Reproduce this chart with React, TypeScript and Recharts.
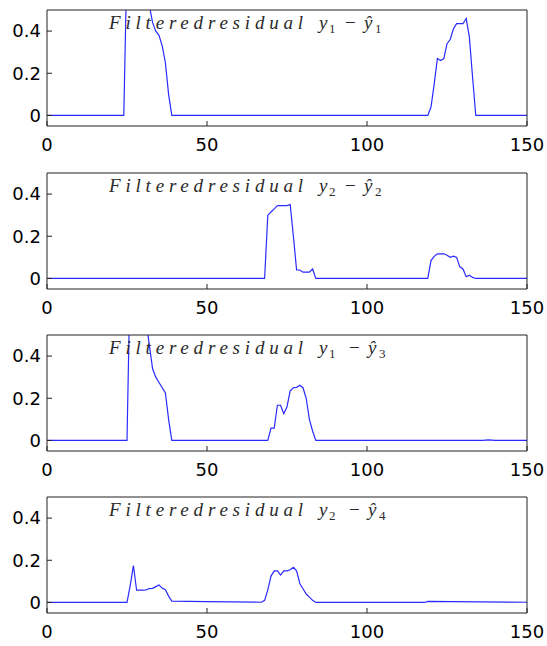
import React from 'react';
import { LineChart, Line, XAxis, YAxis } from 'recharts';

// breakpoints: [sample, residual]; straight segments between them
const residualY1Y1: [number, number][] = [
  [0, 0], [24, 0], [25, 0.75], [26, 0.95], [27, 1.0], [28, 0.95], [29, 0.85], [30, 0.75],
  [31, 0.62], [32, 0.52], [33, 0.44], [34, 0.4], [35, 0.38], [36, 0.33], [37, 0.25],
  [38, 0.1], [39, 0], [119, 0], [120, 0.04], [121, 0.15], [122, 0.27], [123, 0.26],
  [124, 0.27], [125, 0.34], [126, 0.36], [127, 0.41], [128, 0.435], [130, 0.435],
  [131, 0.46], [132, 0.37], [133, 0.18], [134, 0], [150, 0],
];

const residualY2Y2: [number, number][] = [
  [0, 0], [68, 0], [69, 0.3], [70, 0.315], [71, 0.33], [72, 0.345], [75, 0.345], [76, 0.35],
  [77, 0.2], [78, 0.04], [79, 0.04], [80, 0.03], [82, 0.03], [83, 0.045], [84, 0],
  [119, 0], [120, 0.085], [121, 0.105], [122, 0.117], [124, 0.117], [125, 0.11],
  [126, 0.1], [127, 0.106], [128, 0.1], [129, 0.055], [130, 0.045], [131, 0.008],
  [132, 0.015], [133, 0.005], [134, 0], [150, 0],
];

const residualY1Y3: [number, number][] = [
  [0, 0], [25, 0], [26, 0.8], [27, 1.0], [28, 0.95], [29, 0.85], [30, 0.7], [31, 0.56],
  [32, 0.45], [33, 0.34], [34, 0.3], [35, 0.275], [36, 0.25], [37, 0.225], [38, 0.1],
  [39, 0], [69, 0], [70, 0.058], [71, 0.058], [72, 0.167], [73, 0.167], [74, 0.127],
  [75, 0.16], [76, 0.235], [77, 0.25], [78, 0.252], [79, 0.262], [80, 0.25], [81, 0.2],
  [82, 0.1], [83, 0.045], [84, 0], [136, 0], [138, 0.003], [140, 0], [150, 0],
];

const residualY2Y4: [number, number][] = [
  [0, 0], [25, 0], [26, 0.08], [27, 0.175], [28, 0.058], [30, 0.058], [31, 0.06],
  [32, 0.066], [33, 0.067], [34, 0.075], [35, 0.083], [36, 0.068], [37, 0.06], [38, 0.03],
  [39, 0.006], [50, 0.004], [67, 0.001], [68, 0.01], [69, 0.06], [70, 0.125], [71, 0.15],
  [72, 0.15], [73, 0.13], [74, 0.15], [75, 0.15], [76, 0.155], [77, 0.167], [78, 0.15],
  [79, 0.09], [80, 0.065], [81, 0.04], [82, 0.025], [83, 0.01], [84, 0], [118, 0],
  [119, 0.005], [135, 0.003], [150, 0.001],
];

const xTicks = [0, 50, 100, 150];
const yTicks = [0, 0.2, 0.4];
const yDomain: [number, number] = [-0.05, 0.5];
const xDomain: [number, number] = [0, 150];

// title parts: measured output, estimate output
const titleSubs: [string, string][] = [['1', '1'], ['2', '2'], ['1', '3'], ['2', '4']];
const series = [residualY1Y1, residualY2Y2, residualY1Y3, residualY2Y4];
const panelTops = [0, 162.5, 325, 487];

const axisColor = '#222';
const tickFont = { fill: '#000', fontSize: 18, fontFamily: 'DejaVu Sans, sans-serif' };

function Title({ sub, hatSub, wide }: { sub: string; hatSub: string; wide: boolean }) {
  const shift = wide ? 4 : 0;
  return (
    <svg width={547} height={162} style={{ position: 'absolute', left: 0, top: 0, pointerEvents: 'none' }}>
      <text y={29} fontFamily="Liberation Serif, serif" fontStyle="italic" fontSize={19} fill="#2a2a2a">
        <tspan x={109} letterSpacing={4.8}>Filteredresidual</tspan>
        <tspan x={319}>y</tspan>
        <tspan x={329} dy={4} fontSize={13} fontStyle="normal">{sub}</tspan>
        <tspan x={345 + shift} dy={-4} fontStyle="normal">−</tspan>
        <tspan x={364 + shift}>ŷ</tspan>
        <tspan x={375 + shift} dy={4} fontSize={13} fontStyle="normal">{hatSub}</tspan>
      </text>
    </svg>
  );
}

function Panel({ points, top, index }: { points: [number, number][]; top: number; index: number }) {
  const data = points.map(([x, y]) => ({ x, y }));
  const [sub, hatSub] = titleSubs[index];
  return (
    <div style={{ position: 'absolute', left: 0, top, width: 547, height: 162 }}>
      <LineChart width={547} height={162} data={data} margin={{ top: 9, right: 19, bottom: 0, left: 0 }}>
        <XAxis
          dataKey="x"
          type="number"
          domain={xDomain}
          ticks={xTicks}
          interval={0}
          height={36}
          tickSize={-5}
          tickMargin={17}
          stroke={axisColor}
          tick={tickFont}
        />
        <XAxis
          xAxisId="top"
          orientation="top"
          dataKey="x"
          type="number"
          domain={xDomain}
          ticks={xTicks}
          interval={0}
          height={1}
          tickSize={-5}
          tickMargin={0}
          tick={false}
          stroke={axisColor}
        />
        <YAxis
          type="number"
          domain={yDomain}
          ticks={yTicks}
          interval={0}
          allowDataOverflow
          width={47}
          tickSize={-5}
          tickMargin={11}
          stroke={axisColor}
          tick={tickFont}
        />
        <YAxis
          yAxisId="right"
          orientation="right"
          type="number"
          domain={yDomain}
          ticks={yTicks}
          interval={0}
          allowDataOverflow
          width={1}
          tickSize={-5}
          tickMargin={0}
          tick={false}
          stroke={axisColor}
        />
        <Line
          dataKey="y"
          type="linear"
          stroke="#2a2aff"
          strokeWidth={1.2}
          dot={false}
          isAnimationActive={false}
        />
      </LineChart>
      <Title sub={sub} hatSub={hatSub} wide={index >= 2} />
    </div>
  );
}

export default function App() {
  return (
    <div style={{ position: 'relative', width: 547, height: 646, background: '#fff' }}>
      <style>{'body{margin:0}.recharts-surface{overflow:visible}'}</style>
      {series.map((pts, i) => (
        <Panel key={i} points={pts} top={panelTops[i]} index={i} />
      ))}
    </div>
  );
}
